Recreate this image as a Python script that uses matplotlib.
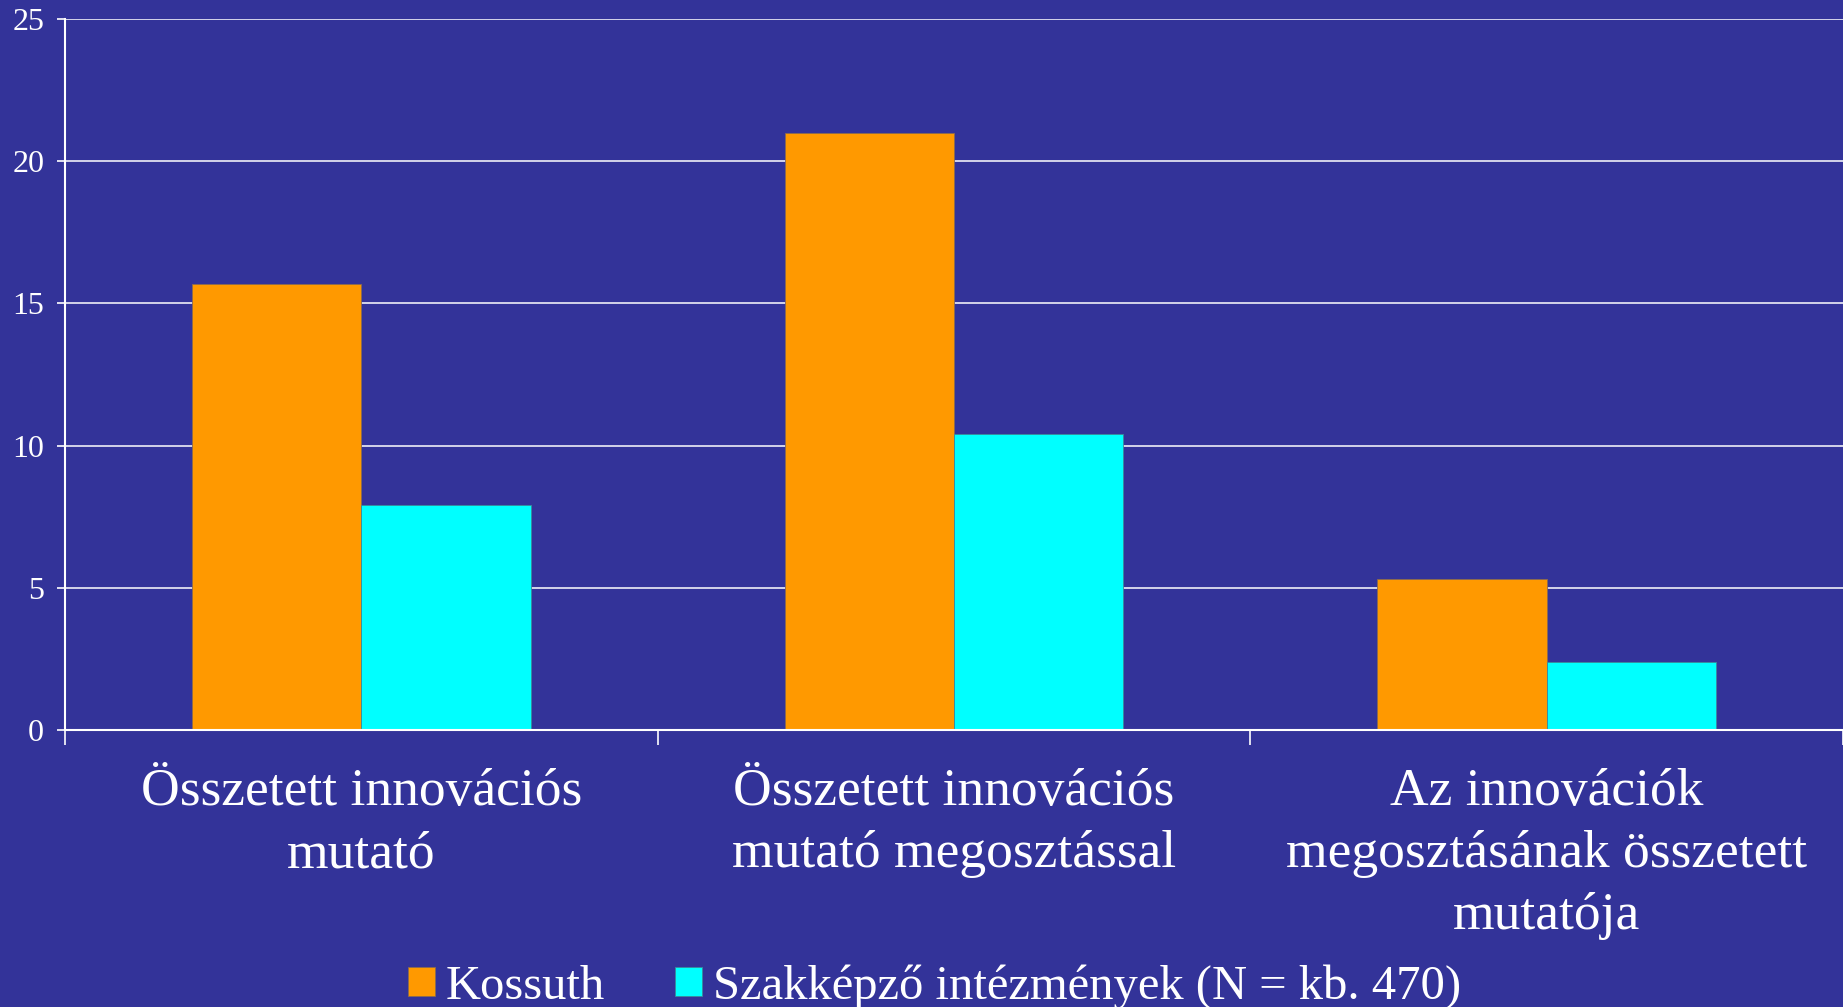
import matplotlib
matplotlib.use("Agg")
import matplotlib.pyplot as plt
import numpy as np

# data
categories = ["Összetett innovációs\nmutató",
              "Összetett innovációs\nmutató megosztással",
              "Az innovációk\nmegosztásának összetett\nmutatója"]
kossuth = [15.7, 21.0, 5.3]
szakkepzo = [7.9, 10.4, 2.4]
series_names = ["Kossuth", "Szakképző intézmények (N = kb. 470)"]
yticks = [0, 5, 10, 15, 20, 25]

bg = "#333399"
plt.rcParams["font.family"] = ["Liberation Serif", "DejaVu Serif"]

fig = plt.figure(figsize=(18.43, 10.07), dpi=100, facecolor=bg)
ax = fig.add_axes([0.0353, 0.2751, 0.9647, 0.706])
ax.set_facecolor(bg)

x = np.arange(len(categories))
w = 1 / 3.5
ax.bar(x - w / 2, kossuth, w, color="#FF9900", edgecolor="#8a6a50", linewidth=0.6,
       label=series_names[0], zorder=3)
ax.bar(x + w / 2, szakkepzo, w, color="#00FFFF", edgecolor="#3a8a9a", linewidth=0.6,
       label=series_names[1], zorder=3)

ax.set_xlim(-0.5, len(categories) - 0.5)
ax.set_ylim(0, 25)
ax.set_yticks(yticks)
ax.set_yticklabels([str(t) for t in yticks], fontsize=23, color="white")
ax.yaxis.grid(True, color="white", linewidth=1.1, zorder=1)
ax.tick_params(axis="y", colors="white", length=6, width=1.2, pad=9)

# category separators as ticks, labels as text
ax.set_xticks(np.arange(-0.5, len(categories)))
ax.set_xticklabels([])
ax.tick_params(axis="x", colors="white", length=10.5, width=1.2)
for i, lab in enumerate(categories):
    ax.text(i, -0.054, lab, transform=ax.get_xaxis_transform(), ha="center", va="top",
            fontsize=38.5, color="white", linespacing=1.37)

for s in ["top", "right"]:
    ax.spines[s].set_visible(False)
for s in ["left", "bottom"]:
    ax.spines[s].set_color("white")
    ax.spines[s].set_linewidth(1.5)
    ax.spines[s].set_zorder(4)

leg = fig.legend(loc="center", bbox_to_anchor=(0.507, 0.02), ncol=2, frameon=False,
                 fontsize=35, labelcolor="white", handlelength=0.55, handleheight=0.55,
                 handletextpad=0.22, columnspacing=1.45, borderaxespad=0)

fig.savefig("out.png", dpi=100, facecolor=bg)
